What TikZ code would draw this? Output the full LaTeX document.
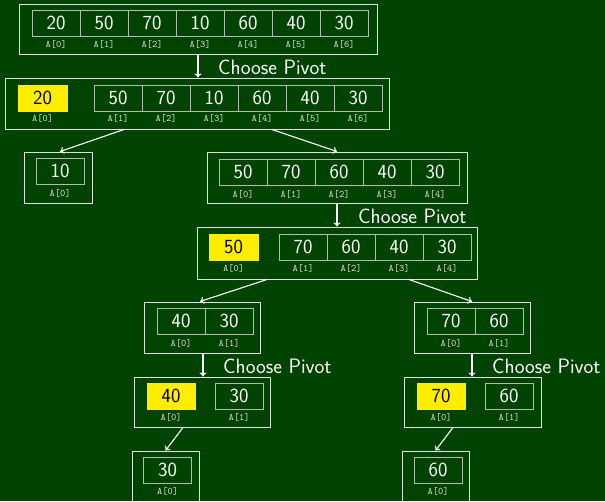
\documentclass[tikz,border=0pt]{standalone}
\usetikzlibrary{arrows.meta}
\definecolor{bgc}{RGB}{0,66,0}
\definecolor{cellline}{RGB}{176,190,176}
\definecolor{outline}{RGB}{222,226,222}
\definecolor{pivy}{RGB}{255,238,0}
\tikzset{
  cell/.style={draw=cellline, line width=0.9pt, minimum width=48pt, minimum height=26pt, inner sep=0pt, text=white, font=\sffamily\fontsize{20}{20}\selectfont},
  pivcell/.style={cell, fill=pivy, draw=pivy, text=black},
  lab/.style={inner sep=0pt, text=outline, font=\ttfamily\fontsize{10}{10}\selectfont},
  outer/.style={draw=outline, line width=1pt, inner sep=0pt},
  arr/.style={draw=white, line width=1.1pt, -{To[length=4pt,width=7pt]}},
  cp/.style={anchor=west, inner sep=0pt, text=white, font=\sffamily\fontsize{20.8}{21}\selectfont}
}
\begin{document}
\begin{tikzpicture}[x=1pt,y=-1pt]
\useasboundingbox (0,0) rectangle (605,501);
\fill[bgc] (0,0) rectangle (605,501);
% box 1
\node[outer, minimum width=358pt, minimum height=50pt] (b1) at (198,29) {};
\foreach \v [count=\i from 0] in {20,50,70,10,60,40,30}{
  \node[cell] (c1-\i) at ({56+48*\i},23) {\v};
  \node[lab] (l1-\i) at ({56+48*\i},44) {A[\i]};
}
% box 2
\node[outer, minimum width=384pt, minimum height=51pt] (b2) at (197,103.5) {};
\node[pivcell, minimum width=49pt] (p2) at (42.5,98) {20};
\node[lab] (lp2) at (42.5,118) {A[0]};
\foreach \v [count=\i from 1] in {50,70,10,60,40,30}{
  \node[cell] (c2-\i) at ({70+48*\i},98) {\v};
  \node[lab] (l2-\i) at ({70+48*\i},118) {A[\i]};
}
\draw[arr] (b1.south) -- (b1.south |- b2.north);
\node[cp] (t1) at (218,67) {Choose Pivot};
% box 3 (10)
\node[outer, minimum width=68pt, minimum height=51pt] (b3) at (58,177.5) {};
\node[cell] (c3-0) at (60,171) {10};
\node[lab] (l3-0) at (60,193) {A[0]};
% box 4
\node[outer, minimum width=260pt, minimum height=51pt] (b4) at (337,177.5) {};
\foreach \v [count=\i from 0] in {50,70,60,40,30}{
  \node[cell] (c4-\i) at ({243+48*\i},172) {\v};
  \node[lab] (l4-\i) at ({243+48*\i},194) {A[\i]};
}
\draw[arr] ([xshift=-73pt]b2.south) -- ([xshift=2pt]b3.north);
\draw[arr] ([xshift=75pt]b2.south) -- (b4.north);
% box 6
\node[outer, minimum width=280pt, minimum height=52pt] (b6) at (337,253) {};
\node[pivcell, minimum width=49pt] (p6) at (233.5,247) {50};
\node[lab] (lp6) at (233.5,268) {A[0]};
\foreach \v [count=\i from 1] in {70,60,40,30}{
  \node[cell] (c6-\i) at ({255+48*\i},247) {\v};
  \node[lab] (l6-\i) at ({255+48*\i},268) {A[\i]};
}
\draw[arr] (b4.south) -- (b4.south |- b6.north);
\node[cp] (t2) at (358,216) {Choose Pivot};
% left branch
\node[outer, minimum width=116pt, minimum height=51pt] (b7) at (202,327.5) {};
\foreach \v [count=\i from 0] in {40,30}{
  \node[cell] (c7-\i) at ({181+48*\i},321) {\v};
  \node[lab] (l7-\i) at ({181+48*\i},343) {A[\i]};
}
\node[outer, minimum width=136pt, minimum height=50pt] (b8) at (202,402) {};
\node[pivcell] (p8) at (171,396) {40};
\node[lab] (lp8) at (171,417) {A[0]};
\node[cell] (c8-1) at (239,396) {30};
\node[lab] (l8-1) at (239,417) {A[1]};
\node[outer, minimum width=67pt, minimum height=51pt] (b9) at (165.5,476.5) {};
\node[cell] (c9-0) at (167.5,470) {30};
\node[lab] (l9-0) at (167.5,491) {A[0]};
\draw[arr] ([xshift=-70pt]b6.south) -- ([xshift=-2pt]b7.north);
\draw[arr] ([xshift=1pt]b7.south) -- ([xshift=1pt]b7.south |- b8.north);
\node[cp] (t3) at (223,366) {Choose Pivot};
\draw[arr] ([xshift=-19pt]b8.south) -- (b9.north);
% right branch
\node[outer, minimum width=116pt, minimum height=51pt] (r7) at (472,327.5) {};
\foreach \v [count=\i from 0] in {70,60}{
  \node[cell] (d7-\i) at ({451+48*\i},321) {\v};
  \node[lab] (m7-\i) at ({451+48*\i},343) {A[\i]};
}
\node[outer, minimum width=137pt, minimum height=50pt] (r8) at (472.5,402) {};
\node[pivcell] (q8) at (441,396) {70};
\node[lab] (mq8) at (441,417) {A[0]};
\node[cell] (d8-1) at (509,396) {60};
\node[lab] (m8-1) at (509,417) {A[1]};
\node[outer, minimum width=67pt, minimum height=51pt] (r9) at (435.5,476.5) {};
\node[cell] (d9-0) at (438,470) {60};
\node[lab] (m9-0) at (438,491) {A[0]};
\draw[arr] ([xshift=72pt]b6.south) -- (r7.north);
\draw[arr] (r7.south) -- (r7.south |- r8.north);
\node[cp] (t4) at (492,366) {Choose Pivot};
\draw[arr] ([xshift=-19.5pt]r8.south) -- (r9.north);
\end{tikzpicture}
\end{document}
